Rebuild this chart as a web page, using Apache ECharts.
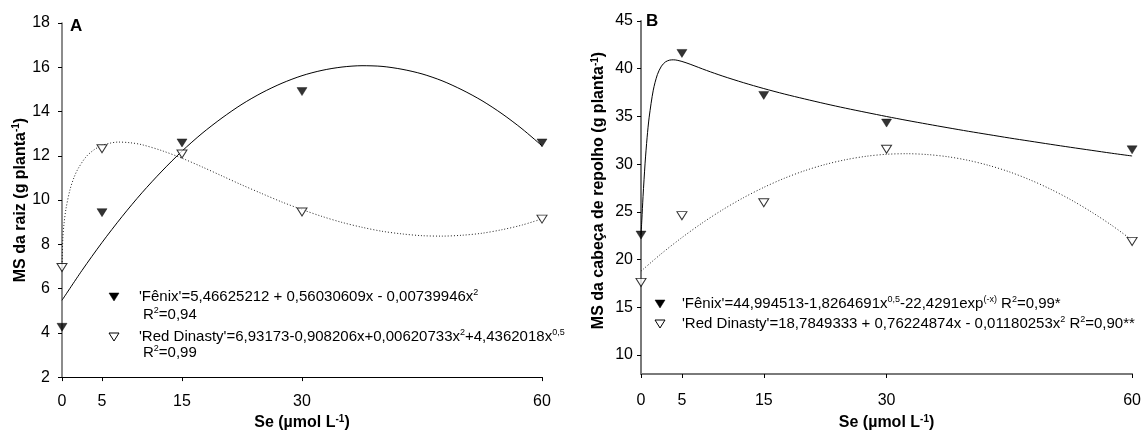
<!DOCTYPE html>
<html>
<head>
<meta charset="utf-8">
<script src="https://cdn.jsdelivr.net/npm/echarts@6/dist/echarts.min.js"></script>
<style>
  html, body { margin: 0; padding: 0; background: #fff; }
  #chart { width: 1144px; height: 436px; }
</style>
</head>
<body>
<div id="chart"></div>
<script>
// Se doses (µmol L-1) and the tick positions shown on both x axes
const seDoses = [0, 5, 15, 30, 60];
const seTicks = [0, 5, 15, 30, 60];

// Panel A: root dry mass (g planta-1)
const raizFenix = [4.25, 9.43, 12.58, 14.9, 12.58];
const raizRedDinasty = [6.95, 12.32, 12.08, 9.46, 9.14];

// Panel A fitted curves
const raizFenixFitX = [0, 2.5, 5, 7.5, 10, 12.5, 15, 17.5, 20, 22.5, 25, 27.5, 30, 32.5, 35, 37.5, 40, 42.5, 45, 47.5, 50, 52.5, 55, 57.5, 60];
const raizFenixFitY = [5.47, 6.82, 8.08, 9.25, 10.33, 11.31, 12.21, 13.01, 13.71, 14.33, 14.85, 15.28, 15.62, 15.86, 16.01, 16.07, 16.04, 15.91, 15.70, 15.39, 14.98, 14.49, 13.90, 13.22, 12.45];
const raizRedFitX = [0, 0.1, 0.25, 0.5, 1, 1.5, 2, 3, 4, 5, 6, 7, 8.5, 10, 12.5, 15, 17.5, 20, 22.5, 25, 27.5, 30, 32.5, 35, 37.5, 40, 42.5, 45, 47.5, 50, 52.5, 55, 57.5, 60];
const raizRedFitY = [6.93, 8.24, 8.92, 9.61, 10.47, 11.02, 11.41, 11.95, 12.27, 12.47, 12.57, 12.62, 12.59, 12.50, 12.23, 11.89, 11.50, 11.09, 10.68, 10.29, 9.91, 9.57, 9.26, 8.99, 8.77, 8.59, 8.47, 8.39, 8.37, 8.41, 8.50, 8.66, 8.87, 9.15];

// Panel B: cabbage head dry mass (g planta-1)
const cabecaFenix = [22.56, 41.6, 37.2, 34.3, 31.5];
const cabecaRedDinasty = [17.6, 24.6, 25.95, 31.55, 21.9];
const cabecaTicks = [10, 15, 20, 25, 30, 35, 40, 45];

// Panel B fitted curves
const cabecaFenixFitX = [0, 0.1, 0.25, 0.5, 0.75, 1, 1.5, 2, 2.5, 3, 3.5, 4, 5, 6, 8, 10, 12.5, 15, 17.5, 20, 22.5, 25, 27.5, 30, 32.5, 35, 37.5, 40, 42.5, 45, 47.5, 50, 52.5, 55, 57.5, 60];
const cabecaFenixFitY = [22.57, 24.12, 26.61, 30.10, 32.82, 34.92, 37.75, 39.38, 40.27, 40.72, 40.90, 40.93, 40.76, 40.47, 39.82, 39.22, 38.54, 37.92, 37.35, 36.83, 36.33, 35.86, 35.42, 34.99, 34.58, 34.19, 33.81, 33.44, 33.09, 32.74, 32.41, 32.08, 31.76, 31.45, 31.14, 30.85];
const cabecaRedFitX = [0, 2.5, 5, 7.5, 10, 12.5, 15, 17.5, 20, 22.5, 25, 27.5, 30, 32.5, 35, 37.5, 40, 42.5, 45, 47.5, 50, 52.5, 55, 57.5, 60];
const cabecaRedFitY = [18.78, 20.62, 22.30, 23.84, 25.23, 26.47, 27.56, 28.51, 29.31, 29.96, 30.46, 30.82, 31.03, 31.09, 31.00, 30.77, 30.39, 29.86, 29.19, 28.36, 27.39, 26.27, 25.00, 23.59, 22.03];

const FONT = '"Liberation Sans", Arial, Helvetica, sans-serif';
const TRI_DOWN = 'path://M0,0L10,0L5,8Z';

const zip = (xs, ys) => xs.map((x, i) => [x, ys[i]]);

const titleRich = {
  n: { fontFamily: FONT, fontWeight: 'bold', fontSize: 16, color: '#000', lineHeight: 18 },
  s: { fontFamily: FONT, fontWeight: 'bold', fontSize: 10, color: '#000', lineHeight: 18, verticalAlign: 'top' }
};
const legendRich = {
  n: { fontFamily: FONT, fontSize: 15, fill: '#000', lineHeight: 17 },
  s: { fontFamily: FONT, fontSize: 9, fill: '#000', lineHeight: 17, verticalAlign: 'top' }
};

function xAxisFor(grid, axisColor, axisWidth, labelMargin, nameGap) {
  return {
    gridIndex: grid, type: 'value', min: 0, max: 60,
    axisLine: { onZero: false, lineStyle: { color: axisColor, width: axisWidth } },
    axisTick: { show: true, length: 4, customValues: seTicks, lineStyle: { color: '#000' } },
    axisLabel: { customValues: seTicks, margin: labelMargin, fontFamily: FONT, fontSize: 16, color: '#000' },
    splitLine: { show: false },
    name: '{n|Se (µmol L}{s|-1}{n|)}',
    nameLocation: 'middle', nameGap: nameGap,
    nameTextStyle: { rich: titleRich }
  };
}

function scatter(name, grid, values, filled) {
  return {
    name: name, type: 'scatter', xAxisIndex: grid, yAxisIndex: grid,
    data: zip(seDoses, values),
    symbol: TRI_DOWN, symbolSize: [10, 8],
    itemStyle: filled
      ? { color: '#000', borderColor: '#000', borderWidth: 0.5 }
      : { color: '#fff', borderColor: '#000', borderWidth: 1 },
    z: 5, silent: true
  };
}

function curve(name, grid, xs, ys, dotted) {
  return {
    name: name, type: 'line', xAxisIndex: grid, yAxisIndex: grid,
    data: zip(xs, ys), showSymbol: false, symbol: 'none',
    smooth: 0.3,
    lineStyle: dotted ? { color: '#222', width: 1, type: [1, 2] } : { color: '#000', width: 1 },
    z: 3, silent: true
  };
}

function legendMarker(cx, cy, filled) {
  return {
    type: 'polygon',
    shape: { points: [[cx - 5, cy - 4], [cx + 5, cy - 4], [cx, cy + 4]] },
    style: filled ? { fill: '#000', stroke: '#000', lineWidth: 0.5 } : { fill: '#fff', stroke: '#000', lineWidth: 1 }
  };
}

function legendText(x, y, text) {
  return {
    type: 'text',
    style: { x: x, y: y, text: text, rich: legendRich, verticalAlign: 'middle', align: 'left', fill: '#000' }
  };
}

const chart = echarts.init(document.getElementById('chart'), null, { renderer: 'canvas' });

chart.setOption({
  backgroundColor: '#fff',
  animation: false,
  grid: [
    { left: 62, top: 23, width: 480, height: 355.5 },
    { left: 641, top: 21, width: 492, height: 362 }
  ],
  xAxis: [
    xAxisFor(0, '#000', 1, 16, 34),
    xAxisFor(1, '#7a7a7a', 2, 19, 40)
  ],
  yAxis: [
    {
      gridIndex: 0, type: 'value', min: 2, max: 18, interval: 2,
      axisLine: { show: true, lineStyle: { color: '#666', width: 1.5 } },
      axisTick: { show: true, length: 4, lineStyle: { color: '#000' } },
      axisLabel: { margin: 12, fontFamily: FONT, fontSize: 16, color: '#000' },
      splitLine: { show: false },
      name: '{n|MS da raiz (g planta}{s|-1}{n|)}',
      nameLocation: 'middle', nameRotate: 90, nameGap: 32,
      nameTextStyle: { rich: titleRich }
    },
    {
      gridIndex: 1, type: 'value', min: 8, max: 45,
      axisLine: { show: true, lineStyle: { color: '#7a7a7a', width: 2 } },
      axisTick: { show: true, length: 4, customValues: cabecaTicks, lineStyle: { color: '#000' } },
      axisLabel: { customValues: cabecaTicks, margin: 8, fontFamily: FONT, fontSize: 16, color: '#000' },
      splitLine: { show: false },
      name: '{n|MS da cabeça de repolho (g planta}{s|-1}{n|)}',
      nameLocation: 'middle', nameRotate: 90, nameGap: 33,
      nameTextStyle: { rich: titleRich, padding: [0, 0, 0, 14] }
    }
  ],
  series: [
    curve("'Fênix' ajuste", 0, raizFenixFitX, raizFenixFitY, false),
    curve("'Red Dinasty' ajuste", 0, raizRedFitX, raizRedFitY, true),
    scatter("'Fênix'", 0, raizFenix, true),
    scatter("'Red Dinasty'", 0, raizRedDinasty, false),
    curve("'Fênix' ajuste", 1, cabecaFenixFitX, cabecaFenixFitY, false),
    curve("'Red Dinasty' ajuste", 1, cabecaRedFitX, cabecaRedFitY, true),
    scatter("'Fênix'", 1, cabecaFenix, true),
    scatter("'Red Dinasty'", 1, cabecaRedDinasty, false)
  ],
  graphic: [
    // panel letters
    { type: 'text', style: { x: 70, y: 26, text: 'A', font: 'bold 17px ' + FONT, fill: '#000', verticalAlign: 'middle' } },
    { type: 'text', style: { x: 646, y: 21, text: 'B', font: 'bold 17px ' + FONT, fill: '#000', verticalAlign: 'middle' } },
    // panel A equations
    legendMarker(114, 297, true),
    legendText(139, 297, "{n|'Fênix'=5,46625212 + 0,56030609x - 0,00739946x}{s|2}"),
    legendText(143, 315, '{n|R}{s|2}{n|=0,94}'),
    legendMarker(114, 337, false),
    legendText(139, 337, "{n|'Red Dinasty'=6,93173-0,908206x+0,00620733x}{s|2}{n|+4,4362018x}{s|0,5}"),
    legendText(143, 353, '{n|R}{s|2}{n|=0,99}'),
    // panel B equations
    legendMarker(660, 304, true),
    legendText(682, 304, "{n|'Fênix'=44,994513-1,8264691x}{s|0,5}{n|-22,4291exp}{s|(-x)}{n| R}{s|2}{n|=0,99*}"),
    legendMarker(660, 324, false),
    legendText(682, 324, "{n|'Red Dinasty'=18,7849333 + 0,76224874x - 0,01180253x}{s|2}{n| R}{s|2}{n|=0,90**}")
  ]
});
</script>
</body>
</html>
